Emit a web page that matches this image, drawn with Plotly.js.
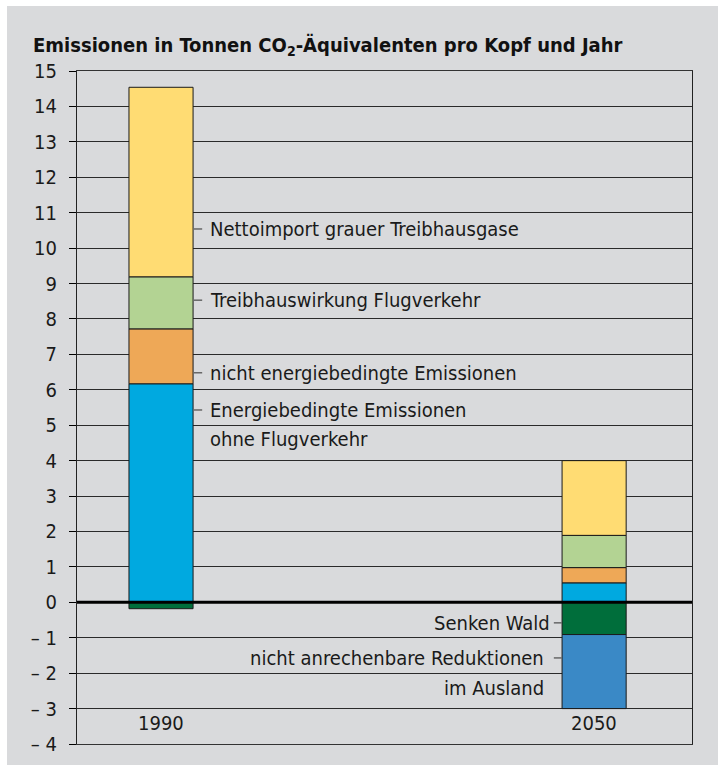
<!DOCTYPE html>
<html>
<head>
<meta charset="utf-8">
<script src="https://cdn.plot.ly/plotly-3.0.1.min.js"></script>
<style>
  html, body { margin: 0; padding: 0; background: #ffffff; }
  #chart { position: absolute; left: 7px; top: 6px; width: 711px; height: 759px; }
</style>
</head>
<body>
<div id="chart"></div>
<script>
// ---- data ----
const years = ['1990', '2050'];
const energie = [6.17, 0.55];        // Energiebedingte Emissionen ohne Flugverkehr
const nichtEnergie = [1.55, 0.43];   // nicht energiebedingte Emissionen
const flugverkehr = [1.47, 0.91];    // Treibhauswirkung Flugverkehr
const nettoimport = [5.35, 2.11];    // Nettoimport grauer Treibhausgase
const senkenWald = [-0.18, -0.91];   // Senken Wald
const ausland = [null, -2.09];       // nicht anrechenbare Reduktionen im Ausland
const yTickVals = [-4,-3,-2,-1,0,1,2,3,4,5,6,7,8,9,10,11,12,13,14,15];
const yTickText = ['– 4','– 3','– 2','– 1','0','1','2','3','4','5','6','7','8','9','10','11','12','13','14','15'];

const FONT = 'DejaVu Sans Condensed, Liberation Sans Narrow, Arial Narrow, sans-serif';
const FS = 20;
const BW = 0.148;

function bar(y, color) {
  return {
    type: 'bar', x: years, y: y, width: BW,
    marker: { color: color, line: { color: '#1a1a1a', width: 1 } },
    hoverinfo: 'none', showlegend: false
  };
}

const traces = [
  bar(energie, '#00a9e0'),
  bar(nichtEnergie, '#eea857'),
  bar(flugverkehr, '#b3d393'),
  bar(nettoimport, '#ffdc73'),
  bar(senkenWald, '#006e3b'),
  bar(ausland, '#3a89c6')
];

const leftLabels = [
  { text: 'Nettoimport grauer Treibhausgase', y: 10.54, dash: true },
  { text: 'Treibhauswirkung Flugverkehr', y: 8.53, dash: true },
  { text: 'nicht energiebedingte Emissionen', y: 6.48, dash: true },
  { text: 'Energiebedingte Emissionen', y: 5.43, dash: true },
  { text: 'ohne Flugverkehr', y: 4.62, dash: false }
];
const rightLabels = [
  { text: 'Senken Wald', y: -0.58, dash: true, xr: 0.902 },
  { text: 'nicht anrechenbare Reduktionen', y: -1.57, dash: true, xr: 0.888 },
  { text: 'im Ausland', y: -2.42, dash: false, xr: 0.888 }
];

const annotations = [];
const shapes = [];
leftLabels.forEach(l => {
  annotations.push({ x: 0.109, y: l.y, xref: 'x', yref: 'y', text: l.text, showarrow: false,
    xanchor: 'left', yanchor: 'middle', font: { family: FONT, size: FS, color: '#1a1a1a' } });
  if (l.dash) shapes.push({ type: 'line', xref: 'x', yref: 'y', x0: 0.076, x1: 0.095, y0: l.y, y1: l.y,
    line: { color: '#555', width: 1.3 }, layer: 'above' });
});
rightLabels.forEach(l => {
  annotations.push({ x: l.xr, y: l.y, xref: 'x', yref: 'y', text: l.text, showarrow: false,
    xanchor: 'right', yanchor: 'middle', font: { family: FONT, size: FS, color: '#1a1a1a' } });
  if (l.dash) shapes.push({ type: 'line', xref: 'x', yref: 'y', x0: 0.907, x1: 0.925, y0: l.y, y1: l.y,
    line: { color: '#555', width: 1.3 }, layer: 'above' });
});
years.forEach((yr, i) => {
  annotations.push({ x: i, y: -3.42, xref: 'x', yref: 'y', text: yr, showarrow: false,
    xanchor: 'center', yanchor: 'middle', font: { family: FONT, size: FS, color: '#1a1a1a' } });
});
// zero line above bars
shapes.push({ type: 'line', xref: 'paper', yref: 'y', x0: 0, x1: 1, y0: 0, y1: 0,
  line: { color: '#000', width: 3 }, layer: 'above' });

const layout = {
  width: 711, height: 759,
  paper_bgcolor: '#d9dadc', plot_bgcolor: '#d9dadc',
  margin: { l: 70, r: 26, t: 65, b: 21 },
  barmode: 'relative',
  title: {
    text: '<b>Emissionen in Tonnen CO<sub>2</sub>-Äquivalenten pro Kopf und Jahr</b>',
    x: 26 / 711, xanchor: 'left', xref: 'container',
    y: 1 - 39 / 759, yanchor: 'middle', yref: 'container',
    font: { family: FONT, size: 20, color: '#111' }
  },
  xaxis: {
    type: 'category', range: [-0.194, 1.226],
    showticklabels: false, ticks: '', showgrid: false, zeroline: false,
    showline: true, mirror: true, linecolor: '#333', linewidth: 1, fixedrange: true
  },
  yaxis: {
    range: [-4, 15], tickvals: yTickVals, ticktext: yTickText,
    ticks: 'outside', ticklen: 7, tickcolor: '#000', tickwidth: 1,
    ticklabelstandoff: 8,
    tickfont: { family: FONT, size: FS, color: '#1a1a1a' },
    showgrid: true, gridcolor: '#2a2a2a', gridwidth: 1,
    zeroline: false, showline: true, mirror: true, linecolor: '#222', linewidth: 1,
    fixedrange: true
  },
  annotations: annotations,
  shapes: shapes
};

Plotly.newPlot('chart', traces, layout, { displayModeBar: false, staticPlot: true });
</script>
</body>
</html>
